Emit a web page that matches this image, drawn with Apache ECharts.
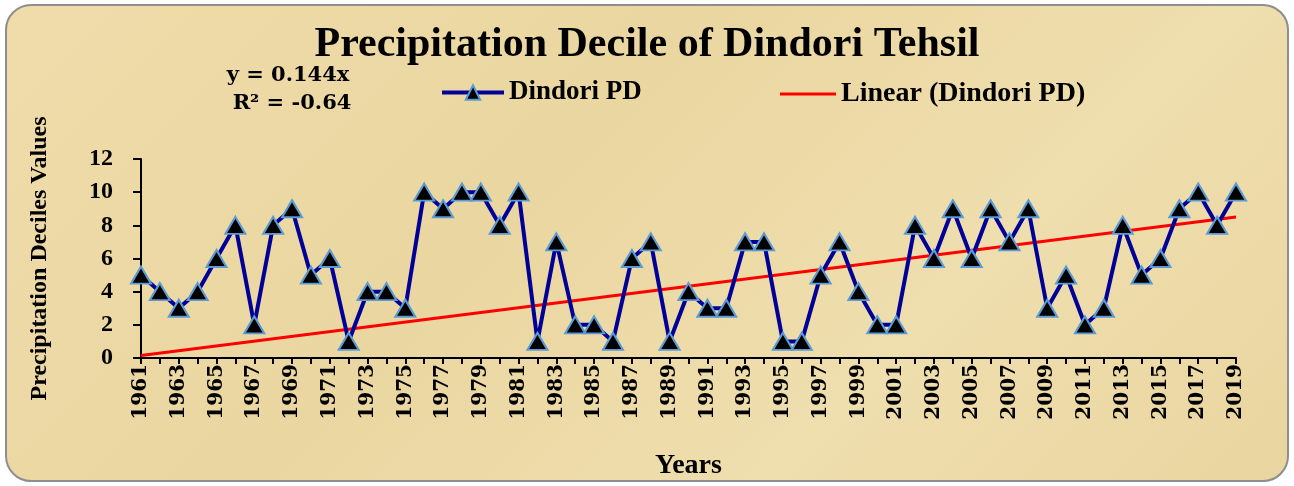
<!DOCTYPE html>
<html>
<head>
<meta charset="utf-8">
<title>Precipitation Decile of Dindori Tehsil</title>
<script src="https://cdn.jsdelivr.net/npm/echarts@6/dist/echarts.min.js"></script>
<style>
  html, body { margin: 0; padding: 0; background: #fff; }
  #box {
    position: absolute; left: 5px; top: 4px; width: 1280px; height: 474px;
    border: 2px solid #8e8e8e; border-radius: 26px;
    background: linear-gradient(135deg, #efdcaa 0%, #ead6a0 40%, #efdeae 70%, #e9d59f 100%);
  }
  #container { position: absolute; left: 0; top: 0; width: 1294px; height: 486px; }
</style>
</head>
<body>
<div id="box"></div>
<div id="container"></div>
<script>
// years on the x axis
var years = ['1961','1962','1963','1964','1965','1966','1967','1968','1969','1970',
  '1971','1972','1973','1974','1975','1976','1977','1978','1979','1980',
  '1981','1982','1983','1984','1985','1986','1987','1988','1989','1990',
  '1991','1992','1993','1994','1995','1996','1997','1998','1999','2000',
  '2001','2002','2003','2004','2005','2006','2007','2008','2009','2010',
  '2011','2012','2013','2014','2015','2016','2017','2018','2019'];

// decile values
var dindoriPD = [5,4,3,4,6,8,2,8,9,5,
  6,1,4,4,3,10,9,10,10,8,
  10,1,7,2,2,1,6,7,1,4,
  3,3,7,7,1,1,5,7,4,2,
  2,8,6,9,6,9,7,9,3,5,
  2,3,8,5,6,9,10,8,10];

// trend line end points (y = 0.144x)
var trendStart = 0.144;
var trendEnd = 8.5;

var yTicks = { min: 0, max: 12, step: 2 };

var serif = '"Liberation Serif", "Times New Roman", serif';
var wideSerif = '"DejaVu Serif", serif';

var myChart = echarts.init(document.getElementById('container'), null, { renderer: 'canvas' });

var option = {
  backgroundColor: 'transparent',
  animation: false,
  title: {
    text: 'Precipitation Decile of Dindori Tehsil',
    left: 'center',
    top: 19,
    textStyle: { fontFamily: serif, fontWeight: 'bold', fontSize: 42, color: '#000' }
  },
  graphic: [
    { type: 'text', x: 288, y: 76, style: { text: 'y = 0.144x', align: 'center', verticalAlign: 'middle',
      font: 'bold 21px ' + wideSerif, fill: '#000' } },
    { type: 'text', x: 292, y: 104, style: { text: 'R² = -0.64', align: 'center', verticalAlign: 'middle',
      font: 'bold 21px ' + wideSerif, fill: '#000' } }
  ],
  legend: [
    {
      data: ['Dindori PD'], left: 435, top: 74, itemWidth: 62, itemHeight: 18,
      lineStyle: { width: 4 },
      textStyle: { fontFamily: serif, fontWeight: 'bold', fontSize: 27, color: '#000' }
    },
    {
      data: [{ name: 'Linear (Dindori PD)', icon: 'rect' }], left: 775, top: 75, itemWidth: 56, itemHeight: 3,
      textStyle: { fontFamily: serif, fontWeight: 'bold', fontSize: 28, color: '#000' }
    }
  ],
  grid: { left: 141, right: 58, top: 159, bottom: 128, containLabel: false },
  xAxis: {
    type: 'category',
    data: years,
    boundaryGap: false,
    name: 'Years',
    nameLocation: 'middle',
    nameGap: 94,
    nameTextStyle: { fontFamily: serif, fontWeight: 'bold', fontSize: 28, color: '#000' },
    axisLine: { lineStyle: { color: '#000', width: 2 } },
    axisTick: { show: true, interval: 0, length: 6, lineStyle: { color: '#000', width: 2 } },
    axisLabel: {
      interval: 1, rotate: 90, margin: 6, color: '#000',
      fontFamily: wideSerif, fontWeight: 'bold', fontSize: 20
    },
    splitLine: { show: false }
  },
  yAxis: {
    type: 'value',
    min: yTicks.min, max: yTicks.max, interval: yTicks.step,
    name: 'Precipitation Deciles Values',
    nameLocation: 'middle',
    nameGap: 89,
    nameTextStyle: { fontFamily: serif, fontWeight: 'bold', fontSize: 24, color: '#000' },
    axisLine: { show: true, lineStyle: { color: '#000', width: 2 } },
    axisTick: { show: true, length: 8, lineStyle: { color: '#000', width: 2 } },
    axisLabel: { margin: 28, color: '#000', fontFamily: serif, fontWeight: 'bold', fontSize: 24 },
    splitLine: { show: false }
  },
  series: [
    {
      name: 'Dindori PD',
      type: 'line',
      data: dindoriPD,
      symbol: 'triangle',
      symbolSize: [20, 17],
      showAllSymbol: true,
      lineStyle: { color: '#000099', width: 4 },
      itemStyle: { color: '#000', borderColor: '#5b9bd5', borderWidth: 2 },
      z: 3
    },
    {
      name: 'Linear (Dindori PD)',
      type: 'line',
      data: [[years[0], trendStart], [years[years.length - 1], trendEnd]],
      symbol: 'none',
      lineStyle: { color: '#ff0000', width: 3 },
      itemStyle: { color: '#ff0000' },
      z: 2
    }
  ]
};
myChart.setOption(option);
</script>
</body>
</html>
